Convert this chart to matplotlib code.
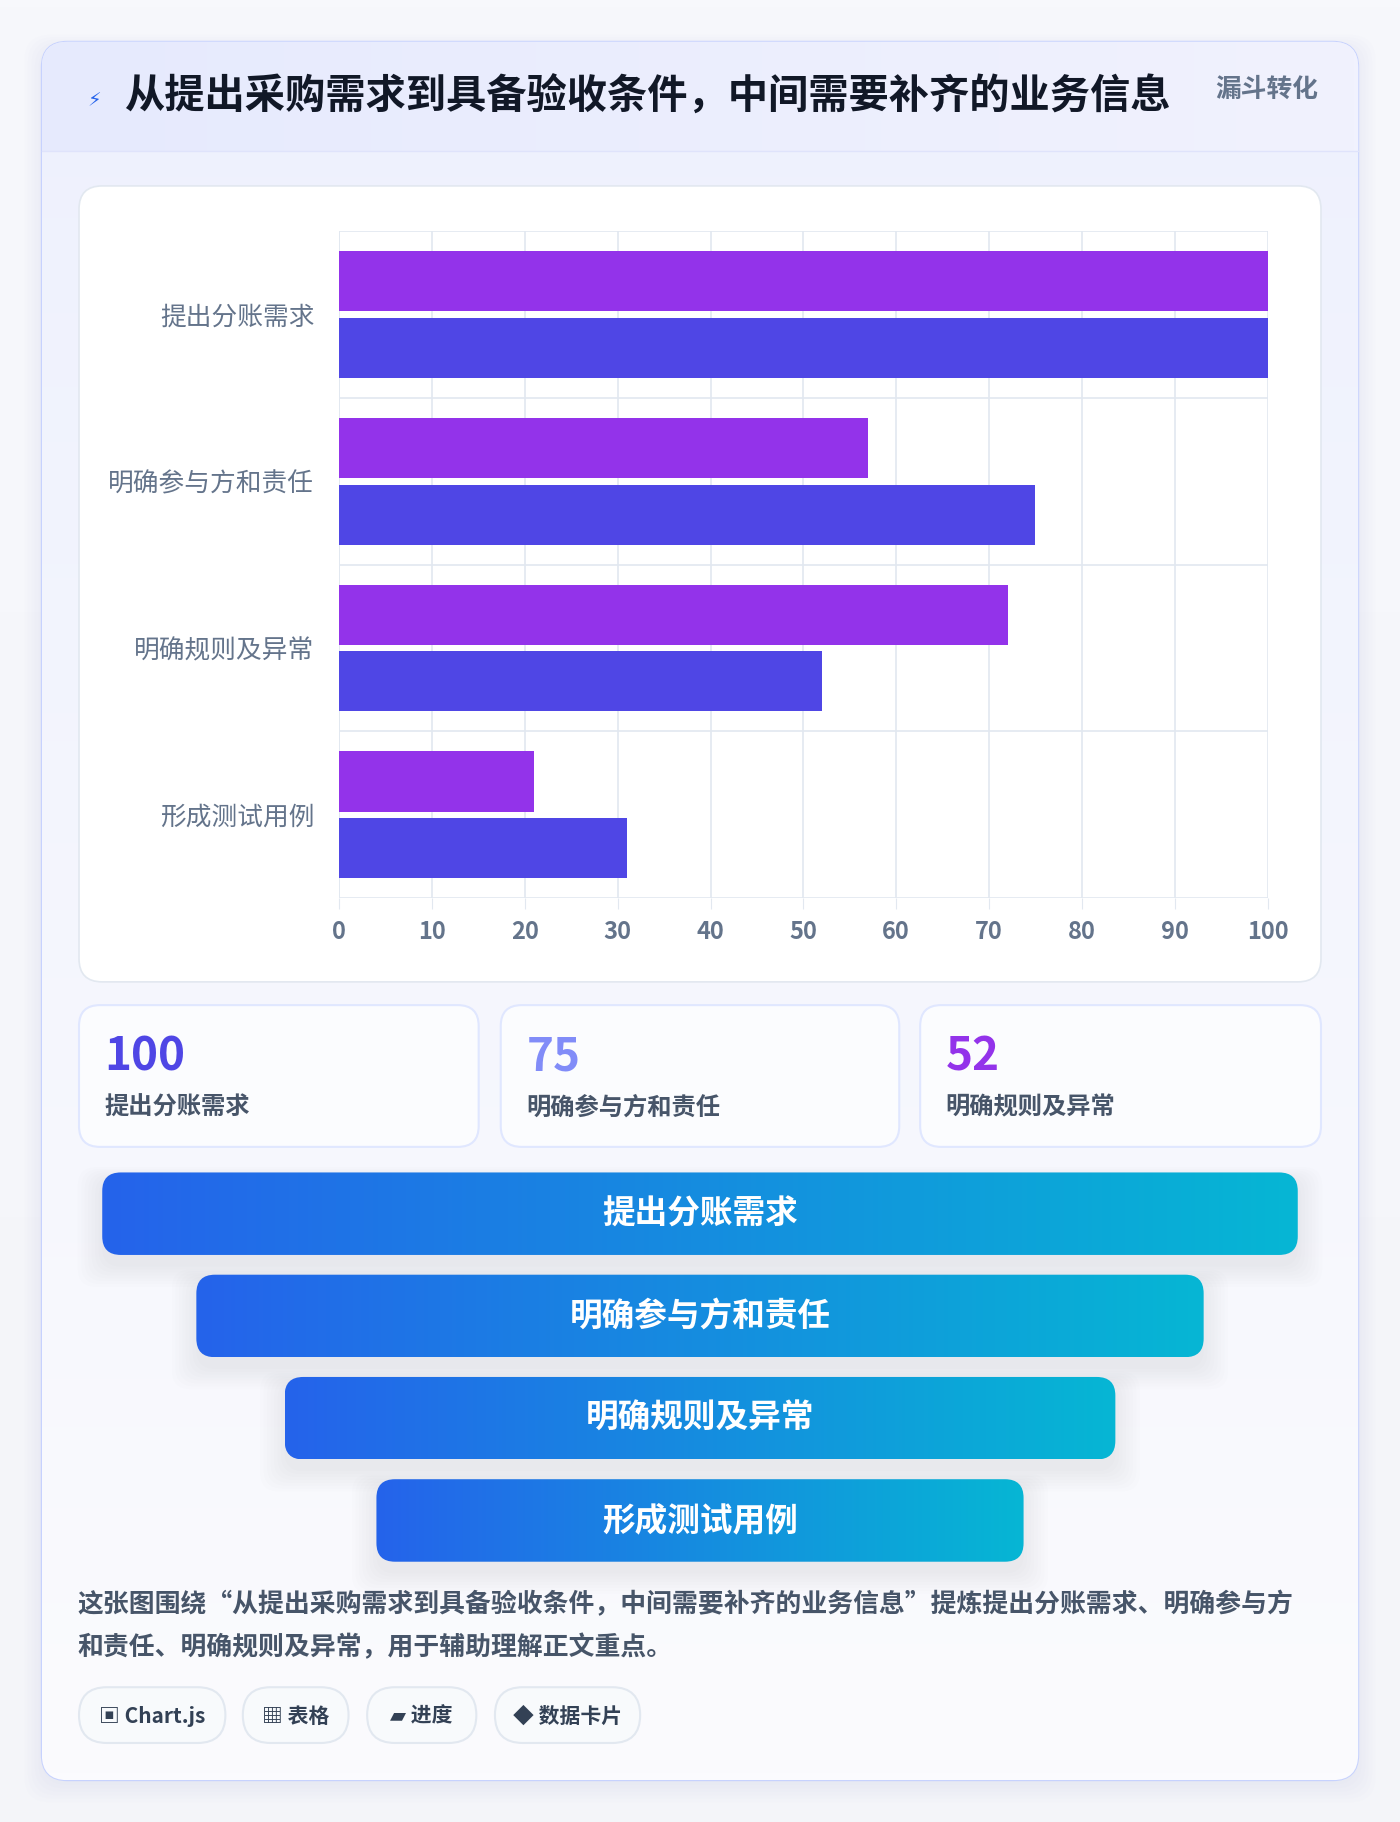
import numpy as np
import matplotlib
matplotlib.use("Agg")
import matplotlib.pyplot as plt
from matplotlib.patches import FancyBboxPatch
from matplotlib.colors import LinearSegmentedColormap

plt.rcParams['font.family'] = ['Noto Sans CJK SC', 'DejaVu Sans']

title = "从提出采购需求到具备验收条件，中间需要补齐的业务信息"
badge = "漏斗转化"
categories = ["提出分账需求", "明确参与方和责任", "明确规则及异常", "形成测试用例"]
series_a = [100, 57, 72, 21]
series_b = [100, 75, 52, 31]
xticks = [0, 10, 20, 30, 40, 50, 60, 70, 80, 90, 100]
stat_values = ["100", "75", "52"]
stat_labels = ["提出分账需求", "明确参与方和责任", "明确规则及异常"]
desc_lines = ["这张图围绕“从提出采购需求到具备验收条件，中间需要补齐的业务信息”提炼提出分账需求、明确参与方",
              "和责任、明确规则及异常，用于辅助理解正文重点。"]
tags = ["▣ Chart.js", "▦ 表格", "▰ 进度", "◆ 数据卡片"]

W, H = 1205, 1568
fig = plt.figure(figsize=(14, 18.22), dpi=100)
bg = fig.add_axes([0, 0, 1, 1])
bg.set_xlim(0, W); bg.set_ylim(H, 0); bg.axis('off')
grad = np.linspace(0, 1, 256).reshape(-1, 1)
bg.imshow(grad, extent=[0, W, H, 0], cmap=LinearSegmentedColormap.from_list('b', ['#f7f8fc', '#f4f5f9']), aspect='auto', zorder=0)

def rbox(x0, y0, x1, y1, r, fc, ec='none', lw=1, z=1, alpha=1):
    p = FancyBboxPatch((x0 + r, y0 + r), x1 - x0 - 2 * r, y1 - y0 - 2 * r,
                       boxstyle=f"round,pad={r}", fc=fc, ec=ec, lw=lw, zorder=z, alpha=alpha)
    bg.add_patch(p)
    return p

for i in range(6):
    rbox(36 - i * 3, 40 - i * 2, 1169 + i * 3, 1536 + i * 3, 22, '#c8cce0', z=1, alpha=0.03)
card = rbox(36, 36, 1169, 1532, 22, '#f8f9fe', ec='#c7d2fe', lw=1.5, z=2)
cg = bg.imshow(grad, extent=[36, 1169, 1532, 36], cmap=LinearSegmentedColormap.from_list('c', ['#eef1fd', '#fbfbfe']), aspect='auto', zorder=2.1)
cg.set_clip_path(card)
hdr = bg.imshow(np.linspace(0, 1, 256).reshape(1, -1), extent=[36, 1169, 130, 36],
                cmap=LinearSegmentedColormap.from_list('h', ['#e6eafd', '#f1f2fe']), aspect='auto', zorder=2.2)
hdr.set_clip_path(card)
bg.plot([36, 1169], [130, 130], color='#dfe3fb', lw=1, zorder=2.3)
bg.text(81, 87, "⚡", fontsize=14, color='#2563eb', ha='center', va='center', zorder=3)
bg.text(107, 84, title, fontsize=29, fontweight='bold', color='#111827', va='center', zorder=3)
bg.text(1135, 77, badge, fontsize=18.5, fontweight='bold', color='#64748b', ha='right', va='center', zorder=3)

rbox(68, 160, 1137, 845, 20, 'white', ec='#e2e8f0', lw=1.2, z=3)
ax = fig.add_axes([292 / W, 1 - 773 / H, (1091 - 292) / W, (773 - 199) / H], zorder=5)
ax.patch.set_alpha(0)
y = np.arange(len(categories))
h = 0.36
ax.barh(y - 0.2, series_a, height=h, color='#9333ea', zorder=3)
ax.barh(y + 0.2, series_b, height=h, color='#4f46e5', zorder=3)
ax.set_ylim(len(categories) - 0.5, -0.5)
ax.set_xlim(0, 100)
ax.set_xticks(xticks)
ax.set_xticklabels([str(t) for t in xticks], fontsize=17, fontweight='bold', color='#64748b')
ax.set_yticks(y)
ax.set_yticklabels(categories, fontsize=18.5, color='#64748b')
ax.set_yticks(np.arange(len(categories) + 1) - 0.5, minor=True)
ax.grid(axis='x', color='#e2e8f0', lw=1.2, zorder=0)
ax.grid(axis='y', which='minor', color='#e2e8f0', lw=1.2, zorder=0)
ax.tick_params(axis='y', which='both', length=0, pad=18)
ax.tick_params(axis='x', length=8, color='#e2e8f0', pad=8)
for s in ax.spines.values():
    s.set_visible(False)
ax.axvline(0, color='#e2e8f0', lw=1.2, zorder=1)

cards_x = [(68, 412), (431, 774), (792, 1137)]
colors = ['#4f46e5', '#818cf8', '#9333ea']
for (x0, x1), v, lab, c in zip(cards_x, stat_values, stat_labels, colors):
    rbox(x0, 865, x1, 987, 18, '#fbfcfe', ec='#e0e7ff', lw=1.5, z=3)
    bg.text(x0 + 22, 910, v, fontsize=33, fontweight='bold', color=c, va='center', zorder=4)
    bg.text(x0 + 22, 953, lab, fontsize=17.5, fontweight='bold', color='#475569', va='center', zorder=4)

fun = [(88, 1117, 1009), (169, 1036, 1097), (245, 960, 1185), (324, 881, 1273)]
fcmap = LinearSegmentedColormap.from_list('f', ['#2563eb', '#06b6d4'])
for (x0, x1, y0), lab in zip(fun, categories):
    y1 = y0 + 71
    for i in range(8):
        rbox(x0 - i * 3, y0 + 6 - i * 1.5, x1 + i * 3, y1 + 10 + i * 2.5, 16, '#94a3b8', z=3, alpha=0.018)
    p = rbox(x0, y0, x1, y1, 16, 'none', z=4)
    im = bg.imshow(np.linspace(0, 1, 256).reshape(1, -1), extent=[x0, x1, y1, y0], cmap=fcmap, aspect='auto', zorder=4.1)
    im.set_clip_path(p)
    bg.text((x0 + x1) / 2, (y0 + y1) / 2, lab, fontsize=23.5, fontweight='bold', color='white', ha='center', va='center', zorder=5)

for i, line in enumerate(desc_lines):
    bg.text(67, 1381 + i * 37, line, fontsize=18.6, fontweight='bold', color='#475569', va='center', zorder=4)

tx = [(68, 194), (209, 300), (316, 410), (426, 551)]
for (x0, x1), t in zip(tx, tags):
    rbox(x0, 1452, x1, 1500, 24, '#f8fafc', ec='#e2e8f0', lw=1.5, z=3)
    bg.text((x0 + x1) / 2, 1477, t, fontsize=15, fontweight='bold', color='#334155', ha='center', va='center', zorder=4)

fig.savefig('out.png', dpi=100)
